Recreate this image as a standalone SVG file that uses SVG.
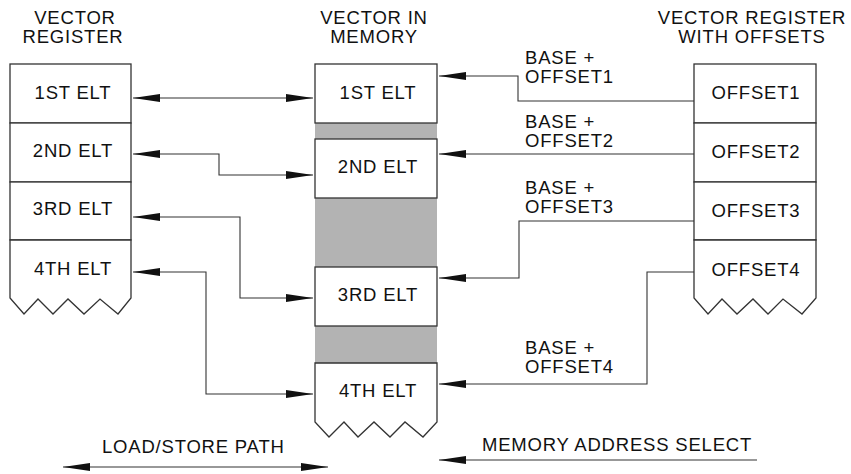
<svg xmlns="http://www.w3.org/2000/svg" width="851" height="474" viewBox="0 0 851 474">
<style>
text{font-family:"Liberation Sans",Arial,sans-serif;font-size:18.5px;letter-spacing:0.8px;fill:#111}
.m{text-anchor:middle}
.box{fill:#fff;stroke:#333;stroke-width:1.3}
.conn{fill:none;stroke:#333;stroke-width:1.1}
</style>
<defs>
<marker id="ah" viewBox="0 0 27 8" refX="27" refY="4" markerWidth="27" markerHeight="8" markerUnits="userSpaceOnUse" orient="auto-start-reverse">
<path d="M0,0 L27,4 L0,8 z" fill="#111"/>
</marker>
</defs>
<rect width="851" height="474" fill="#fff"/>

<g id="headers">
<text class="m" x="75" y="24">VECTOR</text>
<text class="m" x="73" y="43">REGISTER</text>
<text class="m" x="374" y="24">VECTOR IN</text>
<text class="m" x="374" y="43">MEMORY</text>
<text class="m" x="752" y="24">VECTOR REGISTER</text>
<text class="m" x="752" y="43">WITH OFFSETS</text>
</g>

<g id="vector-register">
<g id="vr1"><rect class="box" x="10" y="64" width="121" height="59"/><text class="m" x="73" y="99">1ST ELT</text></g>
<g id="vr2"><rect class="box" x="10" y="123" width="121" height="59"/><text class="m" x="73" y="157">2ND ELT</text></g>
<g id="vr3"><rect class="box" x="10" y="182" width="121" height="58"/><text class="m" x="73" y="215">3RD ELT</text></g>
<g id="vr4"><path class="box" d="M10,240 H131 V298 L118,314 L100,299 L84,314 L68,299 L53,314 L38,299 L24,314 L10,298 Z"/><text class="m" x="73" y="275">4TH ELT</text></g>
</g>

<g id="memory">
<rect x="315" y="123" width="122" height="240" fill="#b3b3b3"/>
<g id="m1"><rect class="box" x="315" y="64" width="122" height="59"/><text class="m" x="378" y="99">1ST ELT</text></g>
<g id="m2"><rect class="box" x="315" y="139" width="122" height="59"/><text class="m" x="378" y="173">2ND ELT</text></g>
<g id="m3"><rect class="box" x="315" y="267" width="122" height="59"/><text class="m" x="378" y="301">3RD ELT</text></g>
<g id="m4"><path class="box" d="M315,363 H437 V422 L423,437 L405,422 L390,437 L374,422 L358,437 L344,422 L329,437 L315,422 Z"/><text class="m" x="378" y="397">4TH ELT</text></g>
</g>

<g id="offset-register">
<g id="o1"><rect class="box" x="694" y="64" width="122" height="59"/><text class="m" x="756" y="99">OFFSET1</text></g>
<g id="o2"><rect class="box" x="694" y="123" width="122" height="59"/><text class="m" x="756" y="158">OFFSET2</text></g>
<g id="o3"><rect class="box" x="694" y="182" width="122" height="58"/><text class="m" x="756" y="217">OFFSET3</text></g>
<g id="o4"><path class="box" d="M694,240 H816 V298 L802,314 L783,299 L768,314 L753,299 L737,314 L722,299 L708,314 L694,298 Z"/><text class="m" x="756" y="276">OFFSET4</text></g>
</g>

<g id="connectors">
<path class="conn" d="M133,98 H313" marker-start="url(#ah)" marker-end="url(#ah)"/>
<path class="conn" d="M133,154 H219 V175 H313" marker-start="url(#ah)" marker-end="url(#ah)"/>
<path class="conn" d="M133,217 H240 V298 H313" marker-start="url(#ah)" marker-end="url(#ah)"/>
<path class="conn" d="M133,272 H206 V394 H313" marker-start="url(#ah)" marker-end="url(#ah)"/>
<path class="conn" d="M694,101 H518 V76 H439" marker-end="url(#ah)"/>
<path class="conn" d="M694,154 H439" marker-end="url(#ah)"/>
<path class="conn" d="M694,221 H519 V278 H439" marker-end="url(#ah)"/>
<path class="conn" d="M694,272 H647 V384 H439" marker-end="url(#ah)"/>
<path class="conn" d="M63,467 H328" marker-start="url(#ah)" marker-end="url(#ah)"/>
<path class="conn" d="M757,460 H439" marker-end="url(#ah)"/>
</g>

<g id="labels">
<text x="525" y="64">BASE +</text>
<text x="525" y="83">OFFSET1</text>
<text x="525" y="128">BASE +</text>
<text x="525" y="147">OFFSET2</text>
<text x="525" y="194">BASE +</text>
<text x="525" y="213">OFFSET3</text>
<text x="525" y="354">BASE +</text>
<text x="525" y="373">OFFSET4</text>
<text x="102" y="453">LOAD/STORE PATH</text>
<text x="482" y="451">MEMORY ADDRESS SELECT</text>
</g>
</svg>
